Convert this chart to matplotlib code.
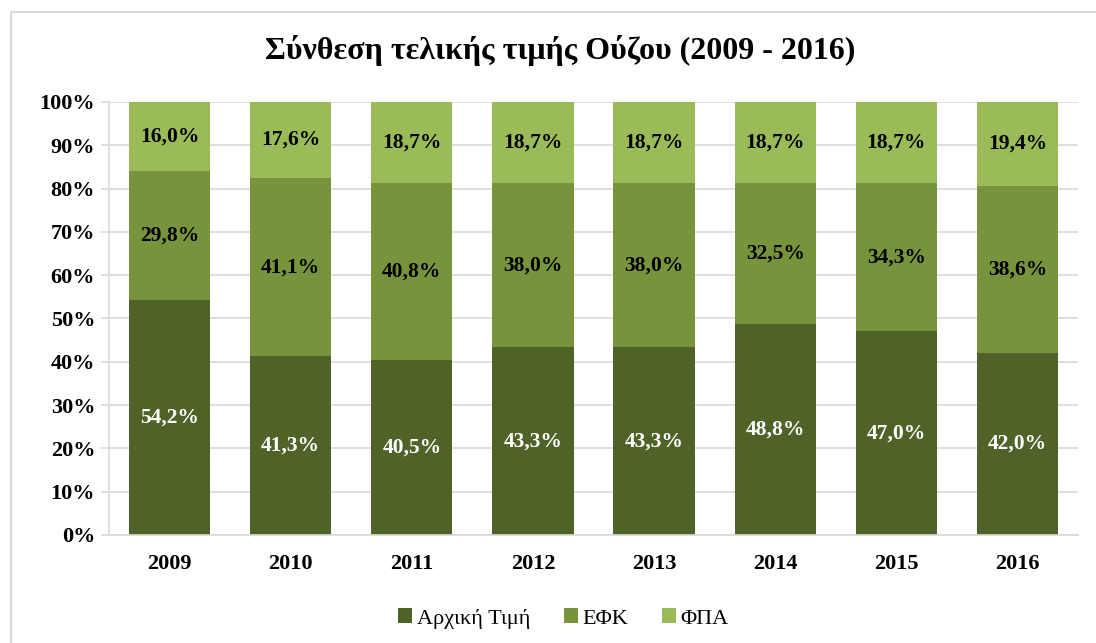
import numpy as np
import matplotlib
matplotlib.use("Agg")
import matplotlib.pyplot as plt
from matplotlib.lines import Line2D

plt.rcParams['font.family'] = ['Liberation Serif', 'DejaVu Serif']

years = ['2009', '2010', '2011', '2012', '2013', '2014', '2015', '2016']
initial_price = [54.2, 41.3, 40.5, 43.3, 43.3, 48.8, 47.0, 42.0]
excise_tax = [29.8, 41.1, 40.8, 38.0, 38.0, 32.5, 34.3, 38.6]
vat = [16.0, 17.6, 18.7, 18.7, 18.7, 18.7, 18.7, 19.4]
series_names = ['Αρχική Τιμή', 'ΕΦΚ', 'ΦΠΑ']
colors = ['#4F6228', '#77933C', '#9BBB59']
label_colors = ['white', 'black', 'black']


def fmt(v):
    return f"{v:.1f}".replace('.', ',') + '%'


fig = plt.figure(figsize=(10.96, 6.43), dpi=100)
ax = fig.add_axes([0.0995, 0.168, 0.8840, 0.6734])

# outer chart border: only top and left edges are inside the screenshot
bx, by = 11 / 1096, 1 - 12 / 643
fig.add_artist(Line2D([bx, bx, 0.9995], [0.0, by, by], transform=fig.transFigure,
                      color='#D9D9D9', linewidth=1.5))

x = np.arange(len(years))
data = np.array([initial_price, excise_tax, vat])
totals = data.sum(axis=0)
pct = data / totals * 100
bottom = np.zeros(len(years))

for i in range(3):
    ax.bar(x, pct[i], bottom=bottom, width=0.67, color=colors[i],
           label=series_names[i], zorder=2)
    for j in range(len(years)):
        ax.text(x[j], bottom[j] + pct[i][j] / 2, fmt(data[i][j]),
                ha='center', va='center', fontsize=15.5, fontweight='bold',
                color=label_colors[i], zorder=3)
    bottom += pct[i]

ax.set_xlim(-0.5, len(years) - 0.5)
ax.set_ylim(0, 100)
ax.set_yticks(np.arange(0, 101, 10))
ax.set_yticklabels([f"{v}%" for v in range(0, 101, 10)],
                   fontsize=16, fontweight='bold')
ax.set_xticks(x)
ax.set_xticklabels(years, fontsize=16, fontweight='bold')
ax.tick_params(axis='x', length=0, pad=14)
ax.tick_params(axis='y', length=6, color='#D9D9D9', width=1.2, pad=4)
ax.grid(axis='y', color='#D9D9D9', linewidth=1.2, zorder=0)
ax.set_axisbelow(True)
for s in ['top', 'right']:
    ax.spines[s].set_visible(False)
for s in ['left', 'bottom']:
    ax.spines[s].set_color('#D9D9D9')
    ax.spines[s].set_linewidth(1.2)

fig.text(0.511, 0.921, 'Σύνθεση τελικής τιμής Ούζου (2009 - 2016)',
         ha='center', va='center', fontsize=23, fontweight='bold')

fig.legend(loc='center', bbox_to_anchor=(0.514, 0.038), ncol=3, frameon=False,
           fontsize=16, handlelength=0.65, handleheight=0.65,
           handletextpad=0.2, columnspacing=1.5)

fig.savefig('out.png', dpi=100)
